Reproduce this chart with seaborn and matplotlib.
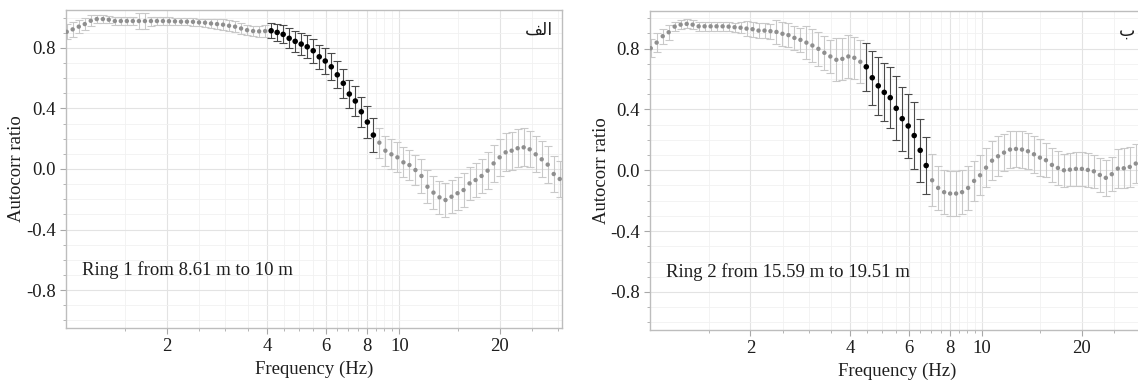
import numpy as np
import pandas as pd
import matplotlib
matplotlib.use("Agg")
import matplotlib.pyplot as plt
import seaborn as sns
from matplotlib.ticker import FixedLocator, NullFormatter

# ---------------- data ----------------
FREQ = [1.000, 1.042, 1.087, 1.133, 1.181, 1.231, 1.284, 1.338, 1.395, 1.454,
        1.516, 1.580, 1.648, 1.718, 1.791, 1.867, 1.946, 2.029, 2.115, 2.205,
        2.298, 2.396, 2.498, 2.604, 2.714, 2.830, 2.950, 3.075, 3.206, 3.342,
        3.484, 3.632, 3.787, 3.947, 4.115, 4.290, 4.472, 4.662, 4.860, 5.067,
        5.282, 5.506, 5.740, 5.984, 6.239, 6.504, 6.780, 7.068, 7.368, 7.681,
        8.008, 8.348, 8.702, 9.072, 9.458, 9.859, 10.278, 10.715, 11.170, 11.645,
        12.139, 12.655, 13.193, 13.753, 14.338, 14.947, 15.582, 16.244, 16.934, 17.654,
        18.404, 19.185, 20.000, 20.850, 21.736, 22.660, 23.622, 24.626, 25.672, 26.763,
        27.900, 29.085, 30.321]

RING1_RATIO = [0.906, 0.922, 0.940, 0.957, 0.979, 0.990, 0.990, 0.986, 0.977, 0.977,
               0.977, 0.977, 0.977, 0.977, 0.977, 0.977, 0.977, 0.976, 0.975, 0.973,
               0.973, 0.972, 0.968, 0.966, 0.961, 0.957, 0.953, 0.946, 0.940, 0.928,
               0.917, 0.911, 0.909, 0.911, 0.913, 0.902, 0.889, 0.863, 0.843, 0.825,
               0.807, 0.781, 0.741, 0.713, 0.675, 0.622, 0.566, 0.495, 0.449, 0.378,
               0.310, 0.224, 0.174, 0.121, 0.097, 0.077, 0.044, 0.026, -0.007, -0.046,
               -0.117, -0.156, -0.187, -0.205, -0.183, -0.160, -0.139, -0.095, -0.073, -0.046,
               -0.011, 0.037, 0.077, 0.110, 0.121, 0.137, 0.143, 0.130, 0.097, 0.064,
               0.029, -0.033, -0.066]
RING1_ERR = [0.05, 0.05, 0.045, 0.04, 0.035, 0.025, 0.025, 0.025, 0.025, 0.025,
             0.025, 0.025, 0.055, 0.055, 0.03, 0.025, 0.025, 0.025, 0.025, 0.025,
             0.025, 0.025, 0.025, 0.025, 0.03, 0.035, 0.035, 0.035, 0.035, 0.035,
             0.035, 0.035, 0.035, 0.04, 0.05, 0.055, 0.06, 0.065, 0.07, 0.07,
             0.075, 0.08, 0.08, 0.085, 0.09, 0.09, 0.095, 0.095, 0.10, 0.10,
             0.105, 0.11, 0.10, 0.10, 0.10, 0.10, 0.10, 0.10, 0.10, 0.11,
             0.11, 0.11, 0.11, 0.11, 0.11, 0.11, 0.11, 0.11, 0.11, 0.11,
             0.12, 0.12, 0.12, 0.125, 0.125, 0.125, 0.125, 0.12, 0.12, 0.12,
             0.12, 0.12, 0.12]

RING2_RATIO = [0.802, 0.839, 0.881, 0.907, 0.944, 0.957, 0.962, 0.957, 0.946, 0.946,
               0.946, 0.946, 0.946, 0.944, 0.940, 0.937, 0.931, 0.927, 0.918, 0.918,
               0.914, 0.909, 0.897, 0.888, 0.870, 0.857, 0.839, 0.820, 0.798, 0.772,
               0.748, 0.726, 0.732, 0.748, 0.739, 0.713, 0.680, 0.608, 0.555, 0.512,
               0.477, 0.407, 0.339, 0.291, 0.228, 0.131, 0.031, -0.066, -0.116, -0.144,
               -0.153, -0.153, -0.144, -0.116, -0.070, -0.033, 0.017, 0.063, 0.092, 0.116,
               0.136, 0.140, 0.136, 0.125, 0.105, 0.083, 0.066, 0.035, 0.015, 0.000,
               0.004, 0.009, 0.009, 0.002, -0.007, -0.031, -0.050, -0.026, 0.011, 0.013,
               0.022, 0.044, 0.050]
RING2_ERR = [0.06, 0.06, 0.05, 0.05, 0.03, 0.03, 0.03, 0.03, 0.03, 0.03,
             0.03, 0.03, 0.03, 0.03, 0.03, 0.035, 0.05, 0.05, 0.05, 0.05,
             0.05, 0.08, 0.08, 0.08, 0.08, 0.08, 0.11, 0.11, 0.11, 0.11,
             0.11, 0.14, 0.14, 0.14, 0.14, 0.14, 0.157, 0.178, 0.19, 0.19,
             0.20, 0.21, 0.21, 0.21, 0.22, 0.205, 0.19, 0.17, 0.145, 0.145,
             0.145, 0.145, 0.145, 0.145, 0.13, 0.13, 0.13, 0.13, 0.13, 0.12,
             0.12, 0.12, 0.12, 0.12, 0.12, 0.12, 0.11, 0.11, 0.11, 0.11,
             0.11, 0.11, 0.11, 0.11, 0.11, 0.11, 0.12, 0.11, 0.13, 0.13,
             0.13, 0.13, 0.13]

RING1_BAND = (4.1, 8.4)     # frequency range drawn in black
RING2_BAND = (4.4, 6.8)

RING_TEXTS = ["Ring 1 from 8.61 m to 10 m", "Ring 2 from 15.59 m to 19.51 m"]
# panel letters "الف" and "ب" written in Arabic presentation forms, visual order
PANEL_TAGS = ["\uFED2\uFEDF\uFE8D", "\u0628"]

Y_TICKS = [0.8, 0.4, 0.0, -0.4, -0.8]
Y_TICK_LABELS = ["0.8", "0.4", "0.0", "-0.4", "-0.8"]
X_TICKS = [2, 4, 6, 8, 10, 20]
X_TICK_LABELS = ["2", "4", "6", "8", "10", "20"]
X_MINOR = [1.5, 2.5, 3, 3.5, 4.5, 5, 5.5, 6.5, 7, 7.5, 8.5, 9, 9.5, 15, 25, 30]
Y_MINOR = [-1.0, -0.9, -0.7, -0.6, -0.5, -0.3, -0.2, -0.1, 0.1, 0.2, 0.3, 0.5, 0.6, 0.7, 0.9, 1.0]

# ---------------- style ----------------
sns.set_style("white")
plt.rcParams["font.family"] = ["Liberation Serif", "DejaVu Sans"]
plt.rcParams["axes.unicode_minus"] = False

W, H = 1138, 383
fig = plt.figure(figsize=(W / 100, H / 100), dpi=100)

TXT = "#1e1e1e"
FS = 13.5

panels = [
    dict(rect=[66 / W, (H - 328) / H, 496 / W, 318 / H], ratio=RING1_RATIO, err=RING1_ERR,
         band=RING1_BAND, text=RING_TEXTS[0], tag=PANEL_TAGS[0]),
    dict(rect=[650 / W, (H - 330) / H, 494 / W, 319.5 / H], ratio=RING2_RATIO, err=RING2_ERR,
         band=RING2_BAND, text=RING_TEXTS[1], tag=PANEL_TAGS[1]),
]

for p in panels:
    ax = fig.add_axes(p["rect"])
    df = pd.DataFrame({"freq": FREQ, "ratio": p["ratio"], "err": p["err"]})
    df["picked"] = (df["freq"] >= p["band"][0]) & (df["freq"] <= p["band"][1])
    ax.set_xscale("log")

    ax.set_xticks(X_TICKS)
    ax.xaxis.set_minor_locator(FixedLocator(X_MINOR))
    ax.xaxis.set_minor_formatter(NullFormatter())
    ax.set_xticklabels(X_TICK_LABELS)
    ax.set_yticks(Y_TICKS)
    ax.set_yticklabels(Y_TICK_LABELS)
    ax.yaxis.set_minor_locator(FixedLocator(Y_MINOR))
    ax.grid(True, which="major", color="#e3e3e3", lw=0.8, zorder=0)
    ax.grid(True, which="minor", color="#f1f1f1", lw=0.6, zorder=0)
    ax.set_axisbelow(True)

    grey = df[~df["picked"]]
    black = df[df["picked"]]
    ax.errorbar(grey["freq"], grey["ratio"], yerr=grey["err"], fmt="none",
                ecolor="#c9c9c9", elinewidth=0.8, capsize=2.6, capthick=0.8, zorder=2)
    ax.errorbar(black["freq"], black["ratio"], yerr=black["err"], fmt="none",
                ecolor="#4a4a4a", elinewidth=0.8, capsize=2.6, capthick=0.8, zorder=2)
    sns.scatterplot(data=grey, x="freq", y="ratio", color="#8f8f8f", s=10,
                    edgecolor="none", linewidth=0, ax=ax, zorder=3, legend=False)
    sns.scatterplot(data=black, x="freq", y="ratio", color="#000000", s=16,
                    edgecolor="none", linewidth=0, ax=ax, zorder=4, legend=False)

    ax.set_xlim(0.995, 30.8)
    ax.set_ylim(-1.05, 1.05)

    for s in ax.spines.values():
        s.set_visible(True)
        s.set_color("#bdbdbd")
        s.set_linewidth(1.0)

    ax.tick_params(axis="both", which="major", direction="out", length=4.5, width=0.8,
                   color="#a8a8a8", labelsize=FS, labelcolor=TXT, pad=3)
    ax.tick_params(axis="both", which="minor", direction="out", length=2.5, width=0.7,
                   color="#b5b5b5")
    ax.tick_params(axis="x", which="both", bottom=True, top=False)
    ax.tick_params(axis="y", which="both", left=True, right=False)

    ax.set_xlabel("Frequency (Hz)", fontsize=FS, color=TXT, va="top")
    ax.set_ylabel("Autocorr ratio", fontsize=FS, color=TXT, va="center")
    ax.xaxis.set_label_coords(0.5, -0.103)
    ax.yaxis.set_label_coords(-0.099, 0.5)

    ax.text(0.033, -0.67, p["text"], transform=ax.get_yaxis_transform(),
            fontsize=FS, color=TXT, ha="left", va="center")
    ax.text(0.982, 0.965, p["tag"], transform=ax.transAxes, fontsize=12.5,
            color=TXT, ha="right", va="top", family=["DejaVu Sans"])

fig.savefig("out.png", dpi=100)
